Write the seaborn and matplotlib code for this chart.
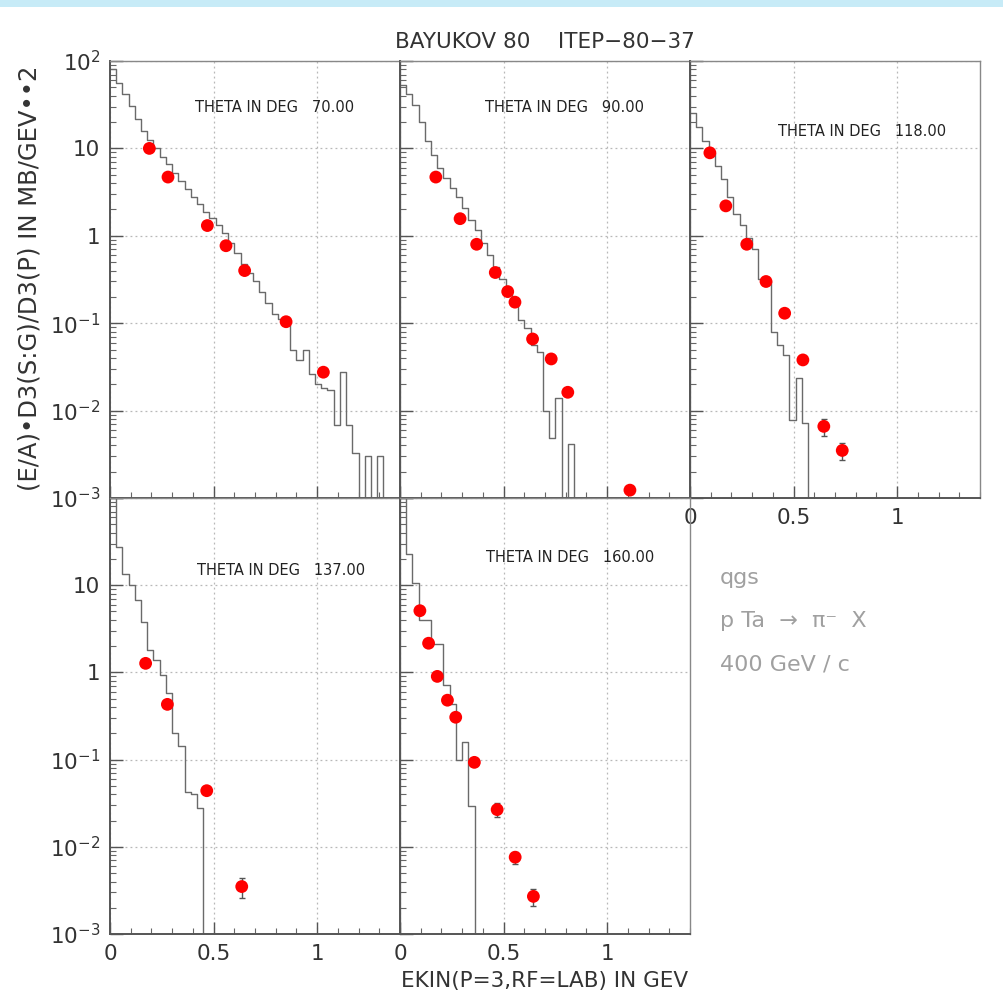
import numpy as np
import pandas as pd
import matplotlib
matplotlib.use("Agg")
import matplotlib.pyplot as plt
from matplotlib.patches import Rectangle
from matplotlib.ticker import FixedLocator, LogLocator, NullFormatter, MultipleLocator
import seaborn as sns

# ---------------------------------------------------------------------------
# Data: p Ta -> pi- X at 400 GeV/c, invariant cross section vs kinetic energy
# ---------------------------------------------------------------------------
angles = [70.0, 90.0, 118.0, 137.0, 160.0]

# measured points (BAYUKOV 80, ITEP-80-37)
ekin_70 = [0.19, 0.28, 0.47, 0.56, 0.65, 0.85, 1.03]
sig_70 = [10.0, 4.7, 1.31, 0.77, 0.40, 0.104, 0.0275]
err_70 = [0.0, 0.0, 0.0, 0.0, 0.0, 0.0, 0.0]

ekin_90 = [0.173, 0.29, 0.37, 0.46, 0.52, 0.555, 0.64, 0.73, 0.81, 1.11]
sig_90 = [4.7, 1.57, 0.80, 0.38, 0.23, 0.174, 0.066, 0.039, 0.0162, 0.00123]
err_90 = [0.0, 0.0, 0.0, 0.0, 0.0, 0.0, 0.0, 0.0, 0.0, 0.0]

ekin_118 = [0.096, 0.173, 0.274, 0.367, 0.457, 0.545, 0.646, 0.735]
sig_118 = [8.9, 2.2, 0.80, 0.30, 0.13, 0.038, 0.0066, 0.0035]
err_118 = [0.0, 0.0, 0.0, 0.0, 0.0, 0.0, 0.0015, 0.0008]

ekin_137 = [0.172, 0.277, 0.467, 0.636]
sig_137 = [1.27, 0.43, 0.044, 0.0035]
err_137 = [0.0, 0.0, 0.0, 0.0009]

ekin_160 = [0.096, 0.138, 0.18, 0.229, 0.269, 0.359, 0.469, 0.556, 0.644]
sig_160 = [5.1, 2.16, 0.90, 0.48, 0.306, 0.093, 0.0267, 0.0076, 0.0027]
err_160 = [0.0, 0.0, 0.0, 0.0, 0.0, 0.0, 0.005, 0.0012, 0.0006]

# qgs model histograms, bins of 0.03 GeV starting at EKIN = 0
qgs_70 = [80.0, 56.2, 41.7, 30.2, 21.9, 15.8, 12.6, 10.0, 7.9, 6.6,
          5.2, 4.2, 3.4, 2.8, 2.3, 1.86, 1.58, 1.32, 1.07, 0.83,
          0.63, 0.48, 0.38, 0.30, 0.23, 0.17, 0.126, 0.112, 0.095, 0.050,
          0.038, 0.050, 0.026, 0.020, 0.018, 0.0174, 0.0068, 0.0275, 0.0068, 0.0033,
          0.0, 0.0030, 0.0, 0.0030, 0.0]
qgs_90 = [52.5, 41.7, 31.6, 20.0, 12.0, 8.3, 6.0, 4.6, 3.5, 2.75,
          2.1, 1.5, 1.15, 0.83, 0.60, 0.44, 0.32, 0.23, 0.178, 0.11,
          0.087, 0.056, 0.047, 0.0098, 0.0049, 0.0141, 0.0, 0.0042, 0.0]
qgs_118 = [25.1, 17.8, 12.0, 8.9, 6.3, 4.5, 2.8, 1.78, 1.32, 0.95,
           0.71, 0.32, 0.30, 0.079, 0.056, 0.043, 0.0079, 0.0234, 0.0072, 0.0]
qgs_137 = [120.0, 27.5, 13.5, 10.0, 6.8, 3.8, 1.82, 1.38, 0.93, 0.58,
           0.204, 0.145, 0.042, 0.040, 0.028, 0.0]
qgs_160 = [130.0, 22.9, 10.5, 4.0, 4.0, 2.14, 2.14, 0.72, 0.43, 0.10,
           0.158, 0.029, 0.0]
bin_width = 0.03

ytick_vals = [1e-3, 1e-2, 1e-1, 1.0, 10.0, 100.0]
ytick_labels = [r"$10^{-3}$", r"$10^{-2}$", r"$10^{-1}$", "1", "10", r"$10^{2}$"]
xtick_vals = [0.0, 0.5, 1.0]
xtick_labels = ["0", "0.5", "1"]

title_text = "BAYUKOV 80    ITEP\u221280\u221237"
xlabel_text = "EKIN(P=3,RF=LAB) IN GEV"
ylabel_text = "(E/A)\u2022D3(S:G)/D3(P) IN MB/GEV\u2022\u20222"
info_lines = ["qgs", "p Ta  \u2192  \u03c0\u207b  X", "400 GeV / c"]

# ---------------------------------------------------------------------------
sns.set_theme(style="white")
plt.rcParams["font.family"] = ["DejaVu Sans"]
plt.rcParams["mathtext.fontset"] = "dejavusans"

W, H = 1004, 997
fig = plt.figure(figsize=(W / 100, H / 100), dpi=100)
fig.patch.set_facecolor("white")
fig.add_artist(Rectangle((0, 1 - 7 / H), 1, 7 / H, transform=fig.transFigure,
                         facecolor="#c7ebf7", edgecolor="none"))


def px_rect(x0, y0, x1, y1):
    return [x0 / W, 1 - y1 / H, (x1 - x0) / W, (y1 - y0) / H]


panels = [
    dict(angle=angles[0], ekin=ekin_70, sig=sig_70, err=err_70, qgs=qgs_70,
         rect=px_rect(110, 61, 400, 498), ylab=True, xlab=False, label_xy=(195, 108), skip_top=False),
    dict(angle=angles[1], ekin=ekin_90, sig=sig_90, err=err_90, qgs=qgs_90,
         rect=px_rect(400, 61, 690, 498), ylab=False, xlab=False, label_xy=(485, 108), skip_top=False),
    dict(angle=angles[2], ekin=ekin_118, sig=sig_118, err=err_118, qgs=qgs_118,
         rect=px_rect(690, 61, 980, 498), ylab=False, xlab=True, label_xy=(778, 131), skip_top=False),
    dict(angle=angles[3], ekin=ekin_137, sig=sig_137, err=err_137, qgs=qgs_137,
         rect=px_rect(110, 498, 400, 934), ylab=True, xlab=True, label_xy=(197, 570), skip_top=True),
    dict(angle=angles[4], ekin=ekin_160, sig=sig_160, err=err_160, qgs=qgs_160,
         rect=px_rect(400, 498, 690, 934), ylab=False, xlab=True, label_xy=(486, 557), skip_top=False),
]

for p in panels:
    ax = fig.add_axes(p["rect"])
    ax.set_facecolor("none")
    ax.set_yscale("log")

    # model histogram
    n = len(p["qgs"])
    edges = [round(i * bin_width, 4) for i in range(n + 1)]
    hist_df = pd.DataFrame({"ekin": [e + bin_width / 2 for e in edges[:-1]],
                            "xsec": [float(v) for v in p["qgs"]]})
    sns.histplot(data=hist_df, x="ekin", weights="xsec", bins=edges, element="step",
                 fill=False, color="#6a6a6a", linewidth=1.0, ax=ax, zorder=2)

    # measured points with error bars
    df = pd.DataFrame({"ekin": p["ekin"], "sig": p["sig"], "err": p["err"]})
    with_err = df[df["err"] > 0]
    if len(with_err):
        ax.errorbar(with_err["ekin"], with_err["sig"], yerr=with_err["err"], fmt="none",
                    ecolor="#555555", elinewidth=1.0, capsize=2.5, capthick=1.0, zorder=3)
    sns.scatterplot(data=df, x="ekin", y="sig", color="#ff0000", s=85, edgecolor="none",
                    linewidth=0, ax=ax, zorder=4, legend=False)

    ax.set_xlim(0, 1.4)
    ax.set_ylim(1e-3, 1e2)
    ax.set_xlabel("")
    ax.set_ylabel("")

    ax.xaxis.set_major_locator(FixedLocator(xtick_vals))
    ax.xaxis.set_minor_locator(MultipleLocator(0.1))
    ax.yaxis.set_major_locator(FixedLocator(ytick_vals))
    ax.yaxis.set_minor_locator(LogLocator(base=10, subs=np.arange(2, 10)))
    ax.yaxis.set_minor_formatter(NullFormatter())

    if p["xlab"]:
        ax.set_xticklabels(xtick_labels)
    else:
        ax.set_xticklabels([""] * len(xtick_vals))
    if p["ylab"]:
        labs = list(ytick_labels)
        if p["skip_top"]:
            labs[-1] = ""
        ax.set_yticklabels(labs)
    else:
        ax.set_yticklabels([""] * len(ytick_vals))

    ax.tick_params(which="major", direction="in", length=9, width=1.0, color="#555555",
                   labelsize=15.5, labelcolor="#333333", pad=7,
                   bottom=True, left=True, top=False, right=False)
    ax.tick_params(which="minor", direction="in", length=4.5, width=0.8, color="#666666",
                   bottom=True, left=True, top=False, right=False)

    ax.grid(True, which="major", color="#b8b8b8", linestyle=(0, (1.5, 2.5)), linewidth=0.9)
    for side, spine in ax.spines.items():
        spine.set_visible(True)
        spine.set_color("#555555" if side in ("left", "bottom") else "#888888")
        spine.set_linewidth(1.4 if side in ("left", "bottom") else 1.0)

    lx, ly = p["label_xy"]
    fig.text(lx / W, 1 - ly / H, f"THETA IN DEG   {p['angle']:.2f}", fontsize=10.5,
             color="#222222", ha="left", va="center")

fig.text(545 / W, 1 - 42 / H, title_text, fontsize=15.5, color="#333333",
         ha="center", va="center")
fig.text(545 / W, 1 - 981 / H, xlabel_text, fontsize=15.5, color="#333333",
         ha="center", va="center")
fig.text(30 / W, 1 - 278 / H, ylabel_text, fontsize=17.5, color="#333333",
         ha="center", va="center", rotation=90)

for i, line in enumerate(info_lines):
    fig.text(720 / W, 1 - (578 + 43 * i) / H, line, fontsize=16, color="#a0a0a0",
             ha="left", va="center")

fig.savefig("out.png", dpi=100, facecolor="white")
